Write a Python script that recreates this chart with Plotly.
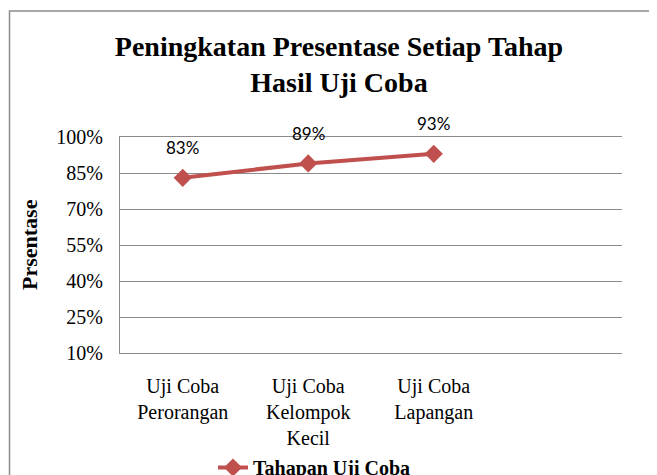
import plotly.graph_objects as go

# Data
categories = ["Uji Coba<br>Perorangan", "Uji Coba<br>Kelompok<br>Kecil", "Uji Coba<br>Lapangan"]
values = [0.83, 0.89, 0.93]
labels = ["83%", "89%", "93%"]
y_ticks = [0.10, 0.25, 0.40, 0.55, 0.70, 0.85, 1.00]
y_ticktext = ["10%", "25%", "40%", "55%", "70%", "85%", "100%"]

W, H = 657, 475
RED = "#C0504D"
GRID = "#8C8C8C"
SERIF = "Liberation Serif, Times New Roman, serif"

# plot area in figure pixels (page has an 8px body offset)
L, T, PW, PH = 112, 129, 502, 216


def px(x):
    return (x - L) / PW


def py(y):
    return (T + PH - y) / PH


x_pos = list(range(len(categories)))

fig = go.Figure(
    go.Scatter(
        x=x_pos,
        y=values,
        mode="lines+markers",
        name="Tahapan Uji Coba",
        line=dict(color=RED, width=4),
        marker=dict(symbol="diamond", size=14, color=RED),
    )
)

# data labels above each point
for x, v, t in zip(x_pos, values, labels):
    fig.add_annotation(
        x=x, y=v, text=t, showarrow=False, yshift=30,
        font=dict(family="Lato, Open Sans, sans-serif", size=17, color="black"),
    )

# y axis title (rotated)
fig.add_annotation(
    x=px(21), y=0.5, xref="paper", yref="paper", xanchor="center", yanchor="middle",
    text="<b>Prsentase</b>", textangle=-90, showarrow=False,
    font=dict(family=SERIF, size=22, color="black"),
)

# outer chart frame
fig.add_shape(
    type="rect", xref="paper", yref="paper",
    x0=px(1.5), x1=px(720), y0=py(520), y1=py(3),
    line=dict(color="#8C8C8C", width=1.5), layer="below",
)

fig.update_layout(
    width=W, height=H,
    margin=dict(l=L, r=W - L - PW, t=T, b=H - T - PH, autoexpand=False),
    paper_bgcolor="white", plot_bgcolor="white",
    title=dict(
        text="<b>Peningkatan Presentase Setiap Tahap<br>Hasil Uji Coba</b>",
        x=331 / W, xanchor="center", xref="container",
        y=1 - 48 / H, yanchor="top", yref="container",
        font=dict(family=SERIF, size=28, color="black"),
    ),
    showlegend=True,
    legend=dict(
        orientation="h", x=px(205), xanchor="left",
        y=py(440), yanchor="top",
        font=dict(family=SERIF, size=20, color="black", weight="bold"),
        bgcolor="rgba(0,0,0,0)",
    ),
    xaxis=dict(
        range=[-0.5, 3.5], tickvals=x_pos, ticktext=categories,
        showgrid=False, zeroline=False,
        showline=True, linecolor=GRID, linewidth=1, mirror=True,
        ticks="", ticklabelstandoff=15, automargin=False,
        tickfont=dict(family=SERIF, size=20, color="black"),
    ),
    yaxis=dict(
        range=[0.10, 1.00], tickvals=y_ticks, ticktext=y_ticktext,
        showgrid=True, gridcolor=GRID, gridwidth=1, zeroline=False,
        showline=True, linecolor=GRID, linewidth=1,
        ticks="", ticklabelstandoff=12, automargin=False,
        tickfont=dict(family=SERIF, size=20, color="black"),
    ),
)

fig.write_html("out.html")
